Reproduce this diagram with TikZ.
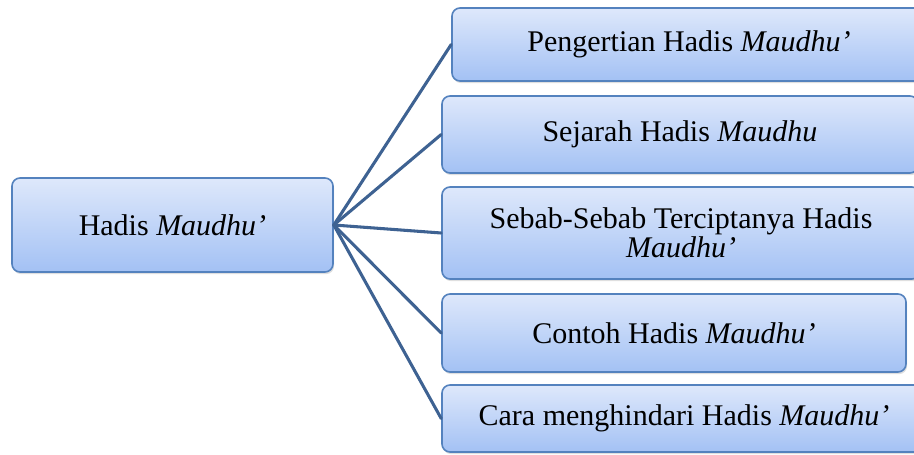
\documentclass[tikz,border=0pt]{standalone}
\usepackage{fontspec}
\setmainfont{Liberation Serif}
\usetikzlibrary{shadows}

\definecolor{boxtop}{RGB}{222,232,251}
\definecolor{boxbottom}{RGB}{163,193,244}
\definecolor{boxline}{RGB}{84,130,190}
\definecolor{linkline}{RGB}{62,98,146}

\begin{document}
\begin{tikzpicture}[
    x=0.75pt,
    y=-0.75pt,
    topicbox/.style={
        draw=boxline,
        line width=1.2pt,
        rounded corners=6pt,
        top color=boxtop,
        bottom color=boxbottom,
        drop shadow={shadow xshift=0.8pt, shadow yshift=-1.6pt, opacity=0.25},
        inner sep=0pt,
        align=center,
        font=\fontsize{22.5}{20}\selectfont,
    },
    link/.style={
        draw=linkline,
        line width=2.3pt,
        line cap=round,
    }
]
    \useasboundingbox (0,0) rectangle (914,454);
    \clip (0,0) rectangle (914,454);

    % Main box
    \node[topicbox, minimum width=240.75pt, minimum height=70.5pt] (main) at (172.5,225)
        {Hadis \textit{Maudhu'}};

    % Topic boxes
    \node[topicbox, minimum width=355.5pt, minimum height=54.75pt] (topic1) at (689,44.5)
        {Pengertian Hadis \textit{Maudhu'}};
    \node[topicbox, minimum width=357pt, minimum height=57.75pt] (topic2) at (680,134.5)
        {Sejarah Hadis \textit{Maudhu}};
    \node[topicbox, minimum width=358.5pt, minimum height=69pt] (topic3) at (681,233)
        {Sebab-Sebab Terciptanya Hadis\\ \textit{Maudhu'}};
    \node[topicbox, minimum width=348pt, minimum height=58.5pt] (topic4) at (674,333)
        {Contoh Hadis \textit{Maudhu'}};
    \node[topicbox, minimum width=363pt, minimum height=50.25pt] (topic5) at (684,418.5)
        {Cara menghindari Hadis \textit{Maudhu'}};

    % Links
    \foreach \i in {1,...,5}
        \draw[link] (main.east) -- (topic\i.west);

\end{tikzpicture}
\end{document}
